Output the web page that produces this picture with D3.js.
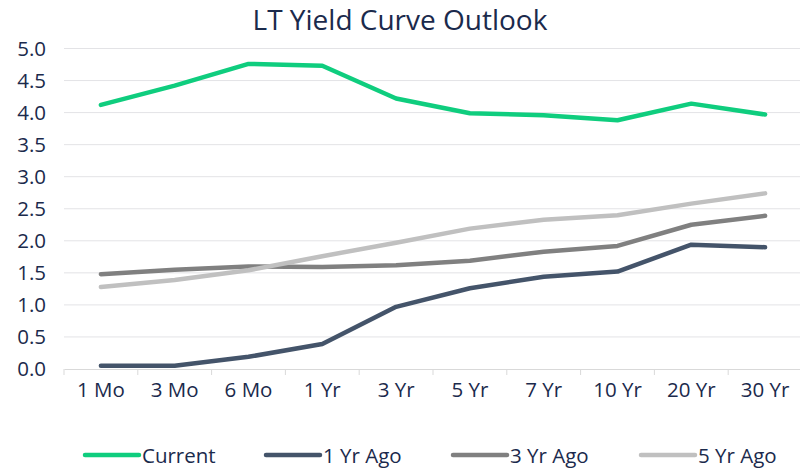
<!DOCTYPE html>
<html><head><meta charset="utf-8">
<script src="https://cdn.jsdelivr.net/npm/d3@7"></script>
<style>body{margin:0;background:#fff}svg{display:block;font-family:"Open Sans",sans-serif}</style>
</head><body><svg id="c" width="800" height="471"></svg>
<script>
const categories = ["1 Mo","3 Mo","6 Mo","1 Yr","3 Yr","5 Yr","7 Yr","10 Yr","20 Yr","30 Yr"];
const current = [4.12,4.42,4.76,4.73,4.22,3.99,3.96,3.88,4.14,3.97];
const yr1Ago = [0.05,0.05,0.19,0.39,0.97,1.26,1.44,1.52,1.94,1.90];
const yr3Ago = [1.48,1.55,1.60,1.59,1.62,1.69,1.83,1.92,2.25,2.39];
const yr5Ago = [1.28,1.39,1.54,1.76,1.97,2.19,2.33,2.40,2.58,2.74];
const seriesNames = ["Current","1 Yr Ago","3 Yr Ago","5 Yr Ago"];
const yTicks = [0,0.5,1,1.5,2,2.5,3,3.5,4,4.5,5];

(function(){
const colors = ["#0fcd7e","#44546a","#808080","#c0c0c0"];
const seriesVals = [current, yr1Ago, yr3Ago, yr5Ago];
const textColor = "#1b2a4c";
const ff = "'Open Sans',sans-serif";
const fs = 20.5;

const svg = d3.select("#c");
const pl = 64, pr = 802, pt = 48.5, pb = 369;
const x = d3.scaleBand().domain(categories).range([pl, pr]);
const y = d3.scaleLinear().domain([0,5]).range([pb, pt]);

svg.append("text").attr("x", 400).attr("y", 30).attr("text-anchor","middle")
  .attr("font-size", 28).attr("fill", textColor).attr("font-family", ff).text("LT Yield Curve Outlook");

// gridlines
svg.append("g").selectAll("line").data(yTicks.filter(d=>d>0)).join("line")
  .attr("x1", pl).attr("x2", 800).attr("y1", d=>y(d)).attr("y2", d=>y(d))
  .attr("stroke", "#e3e3e6").attr("stroke-width", 1);

// y axis labels
const yAxis = d3.axisLeft(y).tickValues(yTicks).tickFormat(d3.format(".1f")).tickSize(0).tickPadding(0);
const ga = svg.append("g").attr("transform", `translate(46,0)`).call(yAxis);
ga.select(".domain").remove();
ga.selectAll("text").attr("font-size", fs).attr("fill", textColor).attr("font-family", ff);

// x axis
const xAxis = d3.axisBottom(x).tickSize(0).tickPadding(13);
const gx = svg.append("g").attr("transform", `translate(0,${pb})`).call(xAxis);
gx.select(".domain").attr("stroke","#d9d9d9");
gx.selectAll("text").attr("font-size", fs).attr("fill", textColor).attr("font-family", ff);
// category boundary ticks
svg.append("g").selectAll("line").data(categories).join("line")
  .attr("x1", d=>x(d)).attr("x2", d=>x(d)).attr("y1", pb).attr("y2", pb+6)
  .attr("stroke","#d9d9d9");

// lines
const line = d3.line().x((d,i)=>x(categories[i])+x.bandwidth()/2).y(d=>y(d));
svg.append("g").selectAll("path").data(seriesVals.map((v,i)=>({v,i}))).join("path")
  .attr("d", d=>line(d.v)).attr("fill","none").attr("stroke", d=>colors[d.i])
  .attr("stroke-width", 4.5).attr("stroke-linecap","round").attr("stroke-linejoin","round");

// legend
const legX = [85, 266, 453, 641];
const lg = svg.append("g").selectAll("g").data(seriesNames).join("g")
  .attr("transform", (d,i)=>`translate(${legX[i]},455)`);
lg.append("line").attr("x1",0).attr("x2",54).attr("y1",0).attr("y2",0)
  .attr("stroke",(d,i)=>colors[i]).attr("stroke-width",4.5).attr("stroke-linecap","round");
lg.append("text").attr("x",57).attr("y",7.5).attr("font-size",fs).attr("fill",textColor).attr("font-family", ff).text(d=>d);
})();
</script></body></html>
